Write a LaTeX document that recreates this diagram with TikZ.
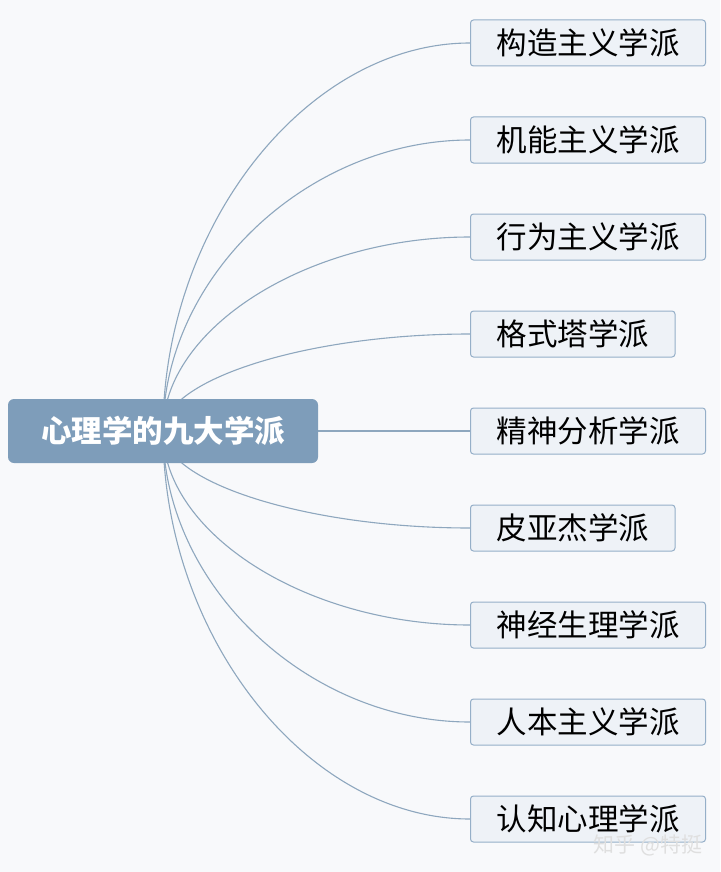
\documentclass[tikz,border=0pt]{standalone}
\usepackage{fontspec}
\setmainfont{Noto Sans CJK SC}
\usetikzlibrary{backgrounds,calc}
\definecolor{rootblue}{HTML}{7E9DBA}
\definecolor{leaffill}{HTML}{EEF2F7}
\definecolor{leafline}{HTML}{95AFC8}
\definecolor{linkline}{HTML}{8EA7BE}
\definecolor{paper}{HTML}{F8F9FB}
\tikzset{
  root/.style={rectangle, rounded corners=6pt, fill=rootblue, text=white,
    font=\fontsize{30.5}{34}\selectfont\bfseries,
    minimum width=310pt, minimum height=64pt, inner sep=0pt},
  leaf/.style={rectangle, rounded corners=3pt, draw=leafline, line width=1pt,
    fill=leaffill, font=\fontsize{30.5}{34}\selectfont,
    minimum height=46pt, inner xsep=26pt, inner ysep=0pt, anchor=west},
  link/.style={draw=linkline, line width=1.1pt}
}
\begin{document}
\begin{tikzpicture}[x=1pt,y=-1pt]
  \useasboundingbox (0,0) rectangle (720,872);
  \node[root] (root) at (163,431) {心理学的九大学派};
  \foreach \name [count=\i] in {构造主义学派,机能主义学派,行为主义学派,
      格式塔学派,精神分析学派,皮亚杰学派,神经生理学派,人本主义学派,认知心理学派}
    \node[leaf] (s\i) at (470,{43+97*(\i-1)}) {\name};
  % watermark
  \node[font=\fontsize{21}{24}\selectfont, text=white!75!gray] (mark) at (648,845) {知乎 @特挺};
  \begin{scope}[on background layer]
    \fill[paper] (0,0) rectangle (720,872);
    % quarter-ellipse like branches
    \foreach \i in {1,...,9}
      \draw[link] (root.center)
        .. controls ($(root.center)!0.53!(root.center |- s\i.west)$)
        and ($(s\i.west)!0.53!(root.center |- s\i.west)$) .. (s\i.west);
  \end{scope}
\end{tikzpicture}
\end{document}
